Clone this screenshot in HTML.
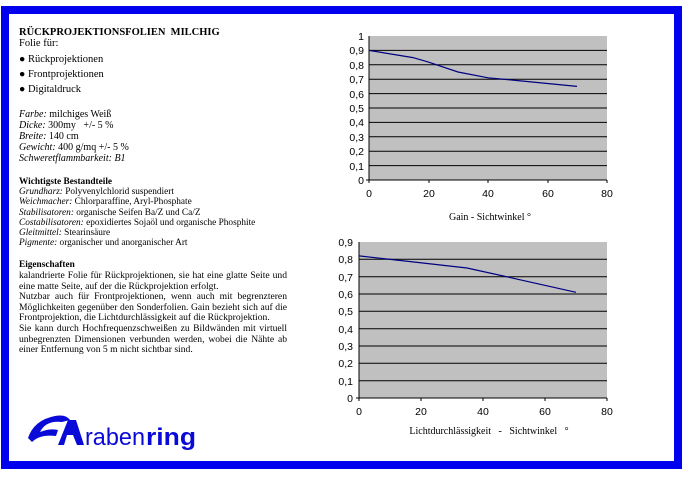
<!DOCTYPE html>
<html><head><meta charset="utf-8"><style>
body{margin:0;width:688px;height:488px;background:#fff;position:relative;overflow:hidden;font-family:"Liberation Serif",serif;color:#000}
.frame{position:absolute;left:1px;top:6px;width:665px;height:447px;border:8px solid #0000ee;background:#fff}
.t{position:absolute;left:19px;font-size:10px;line-height:10.5px;white-space:nowrap}
i{font-style:italic}
.p{position:absolute;left:19px;top:271px;width:268px;font-size:9.6px;line-height:10.6px;text-align:justify}
</style></head><body>
<div class="frame"></div>
<div class="t" style="top:28px;font-weight:bold;font-size:10.5px">RÜCKPROJEKTIONSFOLIEN&nbsp; MILCHIG</div>
<div class="t" style="top:39px;font-size:10.5px">Folie für:</div>
<div class="t" style="top:55px;font-size:10.5px">● Rückprojektionen</div>
<div class="t" style="top:70px;font-size:10.5px">● Frontprojektionen</div>
<div class="t" style="top:85px;font-size:10.5px">● Digitaldruck</div>
<div class="t" style="top:109px;line-height:11px"><i>Farbe:</i> milchiges Weiß<br><i>Dicke:</i> 300my&nbsp;&nbsp; +/- 5 %<br><i>Breite:</i> 140 cm<br><i>Gewicht:</i> 400 g/mq +/- 5 %<br><i>Schweretflammbarkeit: B1</i></div>
<div class="t" style="top:177px;font-size:9.3px;line-height:10.2px"><b>Wichtigste Bestandteile</b><br><i>Grundharz:</i> Polyvenylchlorid suspendiert<br><i>Weichmacher:</i> Chlorparaffine, Aryl-Phosphate<br><i>Stabilisatoren:</i> organische Seifen Ba/Z und Ca/Z<br><i>Costabilisatoren:</i> epoxidiertes Sojaöl und organische Phosphite<br><i>Gleitmittel:</i> Stearinsäure<br><i>Pigmente:</i> organischer und anorganischer Art</div>
<div class="t" style="top:260px;font-size:9.3px"><b>Eigenschaften</b></div>
<div class="p">kalandrierte Folie für Rückprojektionen, sie hat eine glatte Seite und eine matte Seite, auf der die Rückprojektion erfolgt.<br>Nutzbar auch für Frontprojektionen, wenn auch mit begrenzteren Möglichkeiten gegenüber den Sonderfolien. Gain bezieht sich auf die Frontprojektion, die Lichtdurchlässigkeit auf die Rückprojektion.<br>Sie kann durch Hochfrequenzschweißen zu Bildwänden mit virtuell unbegrenzten Dimensionen verbunden werden, wobei die Nähte ab einer Entfernung von 5 m nicht sichtbar sind.</div>
<svg style="position:absolute;left:0;top:0" width="688" height="488" font-family="Liberation Sans, sans-serif" font-size="10.5">
<g fill="#0a0ad8">
<path d="M28 438 Q34 420 55 416 Q66 414 70 420 L62 422 Q46 420 40 432 Q50 428 58 430 L56 436 Q40 434 32 442 Z"/>
<path d="M58 445 L68 420 L76 420 L84 445 L77 445 L73 435 L67 435 L64 445 Z"/>
<text x="85" y="445" font-size="24" font-family="Liberation Sans, sans-serif" textLength="60" lengthAdjust="spacingAndGlyphs">raben</text>
<text x="146" y="445" font-size="24" font-weight="bold" font-family="Liberation Sans, sans-serif" textLength="50" lengthAdjust="spacingAndGlyphs">ring</text>
</g>
<rect x="369" y="36" width="238" height="144" fill="#c0c0c0"/>
<g stroke="#000" stroke-width="1">
<line x1="369" x2="607" y1="50.4" y2="50.4"/><line x1="369" x2="607" y1="64.8" y2="64.8"/><line x1="369" x2="607" y1="79.2" y2="79.2"/><line x1="369" x2="607" y1="93.6" y2="93.6"/><line x1="369" x2="607" y1="108" y2="108"/><line x1="369" x2="607" y1="122.4" y2="122.4"/><line x1="369" x2="607" y1="136.8" y2="136.8"/><line x1="369" x2="607" y1="151.2" y2="151.2"/><line x1="369" x2="607" y1="165.6" y2="165.6"/>
<line x1="369" x2="369" y1="36" y2="183"/><line x1="366" x2="607" y1="180" y2="180"/>
<line x1="429" x2="429" y1="180" y2="183"/><line x1="488" x2="488" y1="180" y2="183"/><line x1="548" x2="548" y1="180" y2="183"/><line x1="607" x2="607" y1="180" y2="183"/>
</g>
<polyline fill="none" stroke="#000080" stroke-width="1.2" points="369,50.4 413,57.6 428,61.9 458,72 488,77.8 518,80.6 577,86.4"/>
<g text-anchor="end"><text x="364" y="40">1</text><text x="364" y="54">0,9</text><text x="364" y="69">0,8</text><text x="364" y="83">0,7</text><text x="364" y="98">0,6</text><text x="364" y="112">0,5</text><text x="364" y="126">0,4</text><text x="364" y="141">0,3</text><text x="364" y="155">0,2</text><text x="364" y="170">0,1</text><text x="364" y="184">0</text></g>
<g text-anchor="middle"><text x="369" y="197">0</text><text x="429" y="197">20</text><text x="488" y="197">40</text><text x="548" y="197">60</text><text x="607" y="197">80</text>
<text x="490" y="220" font-family="Liberation Serif, serif" font-size="10">Gain - Sichtwinkel °</text></g>
<rect x="359" y="242" width="248" height="156" fill="#c0c0c0"/>
<g stroke="#000" stroke-width="1">
<line x1="359" x2="607" y1="259.3" y2="259.3"/><line x1="359" x2="607" y1="276.7" y2="276.7"/><line x1="359" x2="607" y1="294" y2="294"/><line x1="359" x2="607" y1="311.3" y2="311.3"/><line x1="359" x2="607" y1="328.7" y2="328.7"/><line x1="359" x2="607" y1="346" y2="346"/><line x1="359" x2="607" y1="363.3" y2="363.3"/><line x1="359" x2="607" y1="380.7" y2="380.7"/>
<line x1="359" x2="359" y1="242" y2="401"/><line x1="356" x2="607" y1="398" y2="398"/>
<line x1="421" x2="421" y1="398" y2="401"/><line x1="483" x2="483" y1="398" y2="401"/><line x1="545" x2="545" y1="398" y2="401"/><line x1="607" x2="607" y1="398" y2="401"/>
</g>
<polyline fill="none" stroke="#000080" stroke-width="1.2" points="359,255.9 405,261 467,268 514,278.4 576,292.3"/>
<g text-anchor="end"><text x="353" y="246">0,9</text><text x="353" y="263">0,8</text><text x="353" y="281">0,7</text><text x="353" y="298">0,6</text><text x="353" y="315">0,5</text><text x="353" y="333">0,4</text><text x="353" y="350">0,3</text><text x="353" y="367">0,2</text><text x="353" y="385">0,1</text><text x="353" y="402">0</text></g>
<g text-anchor="middle"><text x="359" y="415">0</text><text x="421" y="415">20</text><text x="483" y="415">40</text><text x="545" y="415">60</text><text x="607" y="415">80</text>
<text x="489" y="434" font-family="Liberation Serif, serif" font-size="10" xml:space="preserve">Lichtdurchlässigkeit   -   Sichtwinkel   °</text></g>
</svg>
</body></html>
